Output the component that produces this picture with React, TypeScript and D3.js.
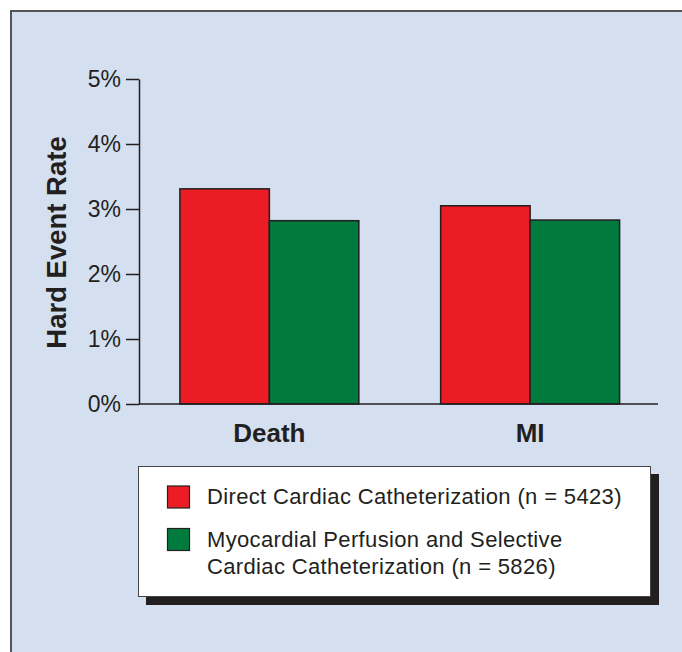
import React, { useEffect, useRef } from "react";
import * as d3 from "d3";

const categories = ["Death", "MI"];
const seriesNames = [
  "Direct Cardiac Catheterization (n = 5423)",
  "Myocardial Perfusion and Selective Cardiac Catheterization (n = 5826)",
];
const legendLines = [
  ["Direct Cardiac Catheterization (n = 5423)"],
  ["Myocardial Perfusion and Selective", "Cardiac Catheterization (n = 5826)"],
];
const seriesColors = ["#ec1c24", "#007a3d"];
const directValues = [3.31, 3.05];
const perfusionValues = [2.82, 2.83];
const yTicks = [0, 1, 2, 3, 4, 5];
const yTitle = "Hard Event Rate";

export default function App() {
  const ref = useRef<SVGSVGElement>(null);

  useEffect(() => {
    const svg = d3.select(ref.current);
    svg.selectAll("*").remove();
    const W = 682, H = 652;
    const textColor = "#231f20";
    const font = "'Liberation Sans', Arial, sans-serif";

    // panel background
    svg.append("rect").attr("x", 11).attr("y", 11).attr("width", W).attr("height", H)
      .attr("fill", "#d4dff0").attr("stroke", "#555").attr("stroke-width", 2);

    const y = d3.scaleLinear().domain([0, 5]).range([404, 79]);
    const x0 = d3.scaleBand<string>().domain(categories).range([139, 660.5]).padding(0);
    const x1 = d3.scaleBand<string>().domain(seriesNames).range([0, x0.bandwidth()])
      .paddingInner(0).paddingOuter(0.457);

    const values = [directValues, perfusionValues];

    // bars
    const g = svg.append("g");
    categories.forEach((c, ci) => {
      seriesNames.forEach((s, si) => {
        const v = values[si][ci];
        g.append("rect")
          .attr("x", (x0(c) as number) + (x1(s) as number))
          .attr("y", y(v))
          .attr("width", x1.bandwidth())
          .attr("height", y(0) - y(v))
          .attr("fill", seriesColors[si])
          .attr("stroke", "#231f20")
          .attr("stroke-width", 1.5);
      });
    });

    // y axis
    const yAxis = d3.axisLeft(y).tickValues(yTicks).tickSize(13).tickSizeOuter(0)
      .tickPadding(5).tickFormat((d) => `${d}%`);
    const ya = svg.append("g").attr("transform", "translate(139,0)").call(yAxis);
    ya.selectAll("path, line").attr("stroke", "#231f20").attr("stroke-width", 1.5);
    ya.selectAll("text").attr("font-family", font).attr("font-size", 23).attr("fill", textColor);

    // x axis line
    svg.append("line").attr("x1", 139).attr("x2", 658).attr("y1", y(0)).attr("y2", y(0))
      .attr("stroke", "#231f20").attr("stroke-width", 1.5);

    // category labels
    categories.forEach((c) => {
      svg.append("text")
        .attr("x", (x0(c) as number) + x0.bandwidth() / 2)
        .attr("y", 442)
        .attr("text-anchor", "middle")
        .attr("font-family", font).attr("font-weight", "bold").attr("font-size", 26)
        .attr("fill", textColor)
        .text(c);
    });

    // y title
    svg.append("text")
      .attr("transform", `translate(66,${(y(0) + y(5)) / 2 + 1}) rotate(-90)`)
      .attr("text-anchor", "middle")
      .attr("font-family", font).attr("font-weight", "bold").attr("font-size", 27.5)
      .attr("fill", textColor)
      .text(yTitle);

    // legend
    const lg = svg.append("g");
    lg.append("rect").attr("x", 146).attr("y", 474).attr("width", 513).attr("height", 131)
      .attr("fill", "#231f20");
    lg.append("rect").attr("x", 138.5).attr("y", 466.5).attr("width", 512).attr("height", 130)
      .attr("fill", "#fff").attr("stroke", "#444").attr("stroke-width", 1);
    const rowY = [486, 528.5];
    const baselines = [[504], [546.5, 574]];
    seriesNames.forEach((s, i) => {
      lg.append("rect").attr("x", 167.5).attr("y", rowY[i]).attr("width", 22).attr("height", 22)
        .attr("fill", seriesColors[i]).attr("stroke", "#231f20").attr("stroke-width", 1.2);
      legendLines[i].forEach((line, li) => {
        lg.append("text").attr("x", 207).attr("y", baselines[i][li])
          .attr("font-family", font).attr("font-size", 22).attr("letter-spacing", 0.35)
          .attr("fill", textColor)
          .text(line);
      });
    });
  }, []);

  return (
    <svg ref={ref} width={682} height={652}
      style={{ position: "absolute", left: 0, top: 0, display: "block" }} />
  );
}
